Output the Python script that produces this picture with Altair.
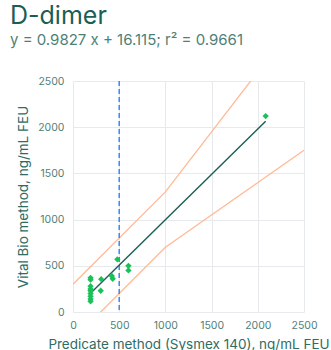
import altair as alt
import pandas as pd

# Paired D-dimer results (ng/mL FEU)
predicate = [190, 190, 190, 190, 190, 190, 190, 190, 190, 305, 300, 420, 430, 480, 600, 600, 2085]
vital_bio = [370, 350, 280, 250, 230, 200, 170, 140, 115, 355, 230, 390, 360, 570, 500, 450, 2120]

# Fitted regression reported in the subtitle
slope = 0.9827
intercept = 16.115
r_squared = 0.9661
fit_x = [190, 2085]

# Acceptance limits: ±300 below 1000, ±30% above
limit_x = [0, 1000, 2500]
limit_upper = [300, 1300, 3250]
limit_lower = [-300, 700, 1750]

cutoff = 500
tick_values = [0, 500, 1000, 1500, 2000, 2500]

TEAL = "#1b5e55"
LABEL = "#4f7f78"
FONT = "Inter"

points = pd.DataFrame({"x": predicate, "y": vital_bio})
fit = pd.DataFrame({"x": fit_x, "y": [slope * v + intercept for v in fit_x]})
limits = pd.concat([
    pd.DataFrame({"x": limit_x, "y": limit_upper, "side": "upper"}),
    pd.DataFrame({"x": limit_x, "y": limit_lower, "side": "lower"}),
])

xscale = alt.Scale(domain=[0, 2500], nice=False)
yscale = alt.Scale(domain=[0, 2500], nice=False)

xaxis = alt.Axis(
    title="Predicate method (Sysmex 140), ng/mL FEU",
    values=tick_values, format="d", labelFlush=False, labelOverlap=False,
    domain=False, ticks=False, labelPadding=8,
    titlePadding=7, titleFontSize=13.5,
)
yaxis = alt.Axis(
    title="Vital Bio method, ng/mL FEU",
    values=tick_values, format="d", labelFlush=False, labelOverlap=False,
    domain=False, ticks=False, labelPadding=9,
    titlePadding=7, titleFontSize=13.5,
)

limit_lines = alt.Chart(limits).mark_line(
    color="#ffb996", strokeWidth=1.3, clip=True
).encode(
    x=alt.X("x:Q", scale=xscale, axis=xaxis),
    y=alt.Y("y:Q", scale=yscale, axis=yaxis),
    detail="side:N",
)

cut_rule = alt.Chart(pd.DataFrame({"x": [cutoff]})).mark_rule(
    color="#3f86ee", strokeWidth=1.5, strokeDash=[5, 3]
).encode(x="x:Q")

fit_line = alt.Chart(fit).mark_line(color=TEAL, strokeWidth=1.4).encode(
    x="x:Q", y="y:Q"
)

dots = alt.Chart(points).mark_point(
    shape="diamond", filled=True, color="#19c159", size=40, opacity=1
).encode(x="x:Q", y="y:Q")

chart = alt.layer(limit_lines, cut_rule, fit_line, dots).properties(
    width=231,
    height=231,
    autosize=alt.AutoSizeParams(type="none"),
    padding={"left": 73, "top": 81, "right": 27, "bottom": 38},
    title=alt.TitleParams(
        text="D-dimer",
        subtitle=f"y = {slope} x + {intercept}; r\u00b2 = {r_squared}",
        anchor="start",
        frame="group",
        dx=-63,
        offset=28,
        font=FONT,
        fontSize=25,
        fontWeight="normal",
        color=TEAL,
        subtitleFont=FONT,
        subtitleFontSize=15,
        subtitleColor=LABEL,
        subtitlePadding=4,
    ),
).configure_view(stroke=None).configure_axis(
    gridColor="#e6eaed",
    labelFont=FONT,
    labelFontSize=10.5,
    labelColor=LABEL,
    titleFont=FONT,
    titleFontWeight="normal",
    titleColor="#2f6c64",
)

chart.save("out.html", embed_options={"renderer": "svg", "actions": False})
